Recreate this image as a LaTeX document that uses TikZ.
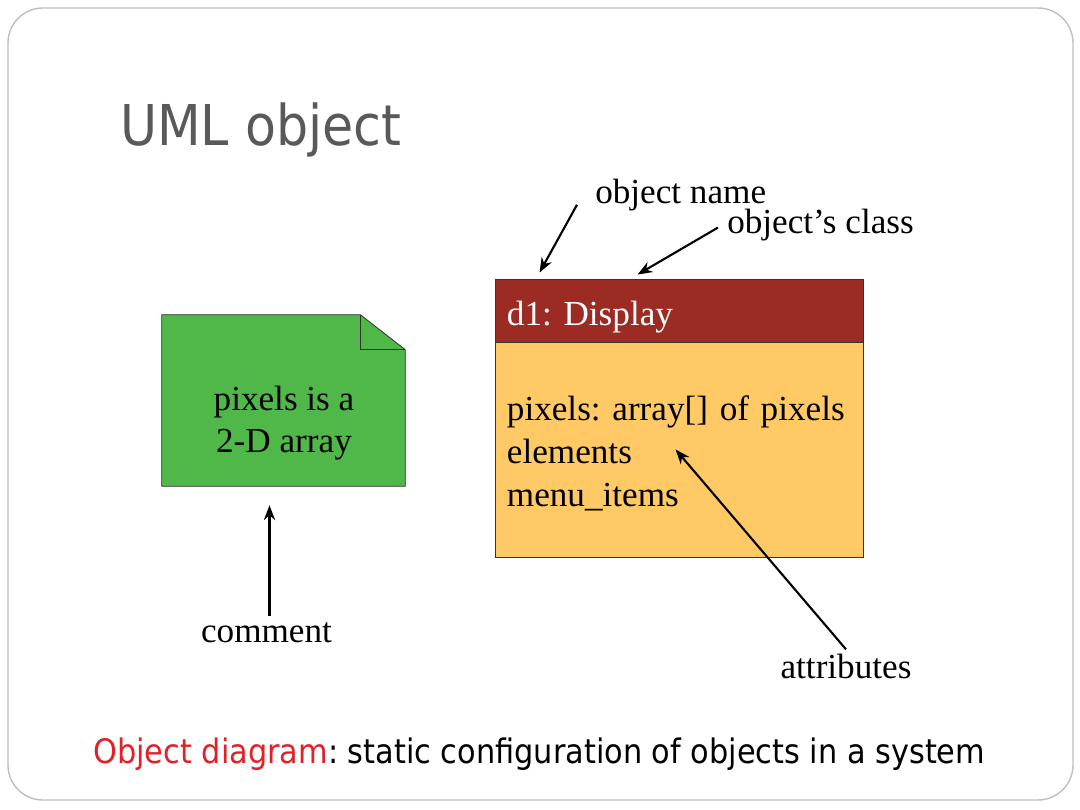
\documentclass[tikz,border=0pt]{standalone}
\usepackage{fontspec}
\setmainfont{Liberation Serif}
\newfontfamily\slidefont{DejaVu Sans Condensed}
\usetikzlibrary{arrows.meta,calc,positioning}

\definecolor{headred}{RGB}{155,43,35}
\definecolor{bodyorange}{RGB}{255,201,102}
\definecolor{notegreen}{RGB}{80,184,72}
\definecolor{titlegray}{RGB}{89,89,89}
\definecolor{keyred}{RGB}{226,32,40}

\begin{document}
\frenchspacing
\begin{tikzpicture}[x=0.025cm,y=-0.025cm,
  serif/.style={font=\fontsize{25}{30}\selectfont},
  tag/.style={serif,inner sep=0pt,anchor=base west},
  ptr/.style={-{Stealth[length=10.5pt,width=8pt]},line width=1.5pt},
  boxline/.style={draw=black!80,line width=0.6pt},
  notebox/.style={inner sep=0pt,minimum width=6.075cm,minimum height=4.275cm},
  classhead/.style={boxline,fill=headred,text=white,serif,
    minimum height=1.575cm,text width=8.6cm,inner xsep=0.3cm,align=left,
    text height=0.73cm,text depth=0pt},
  classbody/.style={boxline,fill=bodyorange,
    font=\fontsize{25}{30.5}\selectfont,
    minimum height=5.375cm,text width=8.6cm,inner xsep=0.3cm,align=left,
    text depth=2.09cm}]

\useasboundingbox (0,0) rectangle (1080,810);

% Slide frame
\draw[gray!50,line width=1pt,rounded corners=0.875cm]
(8,8) rectangle (1073,800);

% Title
\node[anchor=base west,inner sep=0pt,text=titlegray,
  font=\slidefont\fontsize{40}{48}\selectfont]
(title)
at (120,145)
{UML object};

% Comment note
\node[notebox]
(note)
at (283.5,400.5)
{};

\filldraw[boxline,fill=notegreen]
(note.north west) -- ($(note.north east)+(-45,0)$)
-- ($(note.north east)+(0,35)$) -- (note.south east)
-- (note.south west) -- cycle;
\draw[boxline]
($(note.north east)+(-45,0)$) -- ++(0,35) -- ($(note.north east)+(0,35)$);

\node[font=\fontsize{25}{29.8}\selectfont,align=center]
(notetxt)
at (284,423)
{pixels is a\\2-D array};

% Object box
\node[classhead]
(head)
at (679,310.5)
{d1: Display};

\node[classbody,below=0pt of head]
(body)
{pixels: array[] of pixels\\elements\\menu\_items};

% Labels
\node[tag]
(oname)
at (595,203)
{object name};

\node[tag]
(oclass)
at (727,233)
{object's class};

\node[tag,anchor=base]
(cmt)
at (266.5,642)
{comment};

\node[tag,anchor=base]
(attr)
at (846,678)
{attributes};

\coordinate (elem) at ($(body.north west)+(181,107)$);

\draw[ptr] ($(oname.south west)+(-18,-6)$) -- ($(head.north west)+(45,-6)$);
\draw[ptr] ($(oclass.west)+(-9,3)$) -- ($(head.north west)+(143,-4)$);
\draw[ptr] ($(cmt.north)+(3,-6)$) -- ($(cmt.north |- note.south)+(3,19)$);
\draw[ptr] ($(attr.north)+(0,-4)$) -- (elem);

% Caption
\node[anchor=base west,inner sep=0pt,
  font=\slidefont\fontsize{24}{29}\selectfont]
(caption)
at (93,763)
{\textcolor{keyred}{Object diagram}: static configuration of objects in a system};

\end{tikzpicture}
\end{document}
